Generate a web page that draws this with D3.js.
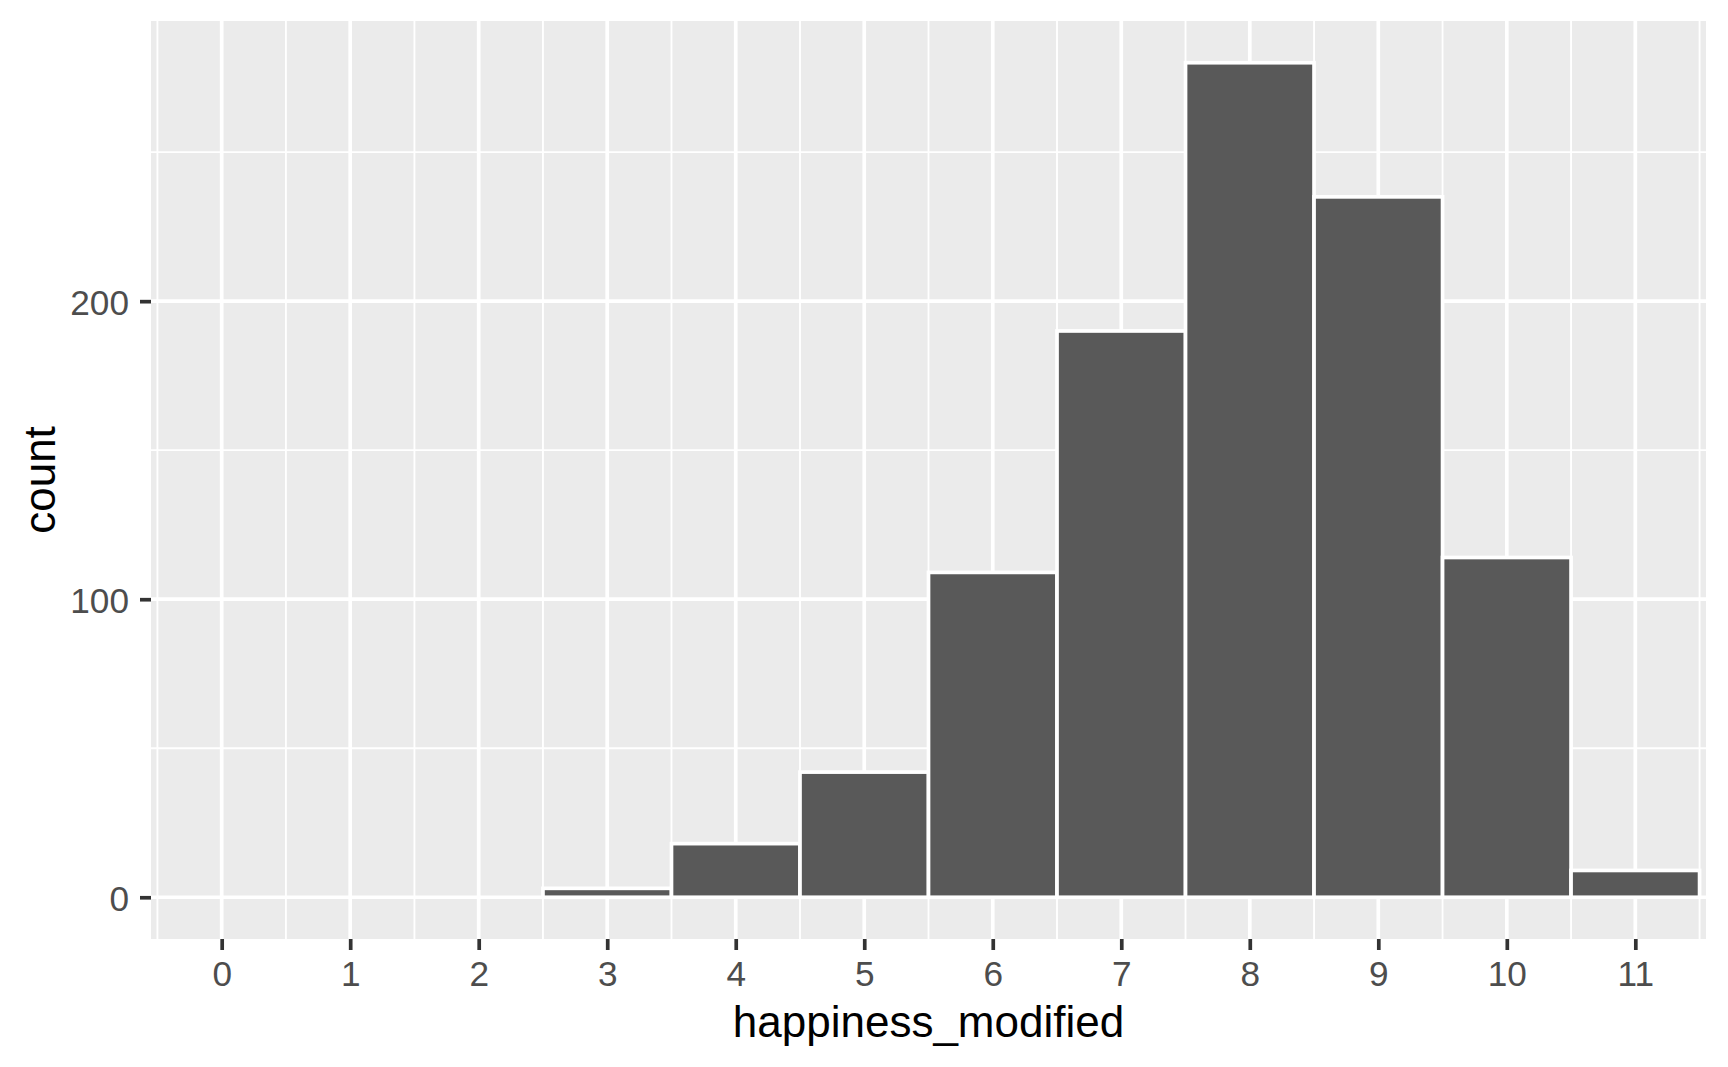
<!DOCTYPE html>
<html>
<head>
<meta charset="utf-8">
<script src="https://cdn.jsdelivr.net/npm/d3@7"></script>
<style>
  html, body { margin: 0; padding: 0; background: #ffffff; }
  svg { display: block; }
  text { font-family: "Liberation Sans", Arial, sans-serif; }
</style>
</head>
<body>
<svg id="chart" width="1728" height="1067"></svg>
<script>
// ---- data ----
const binCenters = [0, 1, 2, 3, 4, 5, 6, 7, 8, 9, 10, 11];
const counts     = [0, 0, 0, 3, 18, 42, 109, 190, 280, 235, 114, 9];
const xTickLabels = [0, 1, 2, 3, 4, 5, 6, 7, 8, 9, 10, 11];
const xMinorBreaks = [-0.5, 0.5, 1.5, 2.5, 3.5, 4.5, 5.5, 6.5, 7.5, 8.5, 9.5, 10.5, 11.5];
const yTickLabels = [0, 100, 200];
const yMinorBreaks = [50, 150, 250];
const xTitle = "happiness_modified";
const yTitle = "count";

// ---- layout ----
const panel = { left: 151, right: 1706, top: 21, bottom: 939 };
const binWidth = 1;

const x = d3.scaleLinear().domain([-0.55, 11.55]).range([panel.left, panel.right]);
const y = d3.scaleLinear().domain([-14, 294]).range([panel.bottom, panel.top]);

const svg = d3.select("#chart");

// panel background
svg.append("rect")
  .attr("x", panel.left).attr("y", panel.top)
  .attr("width", panel.right - panel.left)
  .attr("height", panel.bottom - panel.top)
  .attr("fill", "#EBEBEB");

const grid = svg.append("g");
// minor grid
grid.selectAll("line.xminor").data(xMinorBreaks).join("line")
  .attr("x1", d => x(d)).attr("x2", d => x(d))
  .attr("y1", panel.top).attr("y2", panel.bottom)
  .attr("stroke", "#ffffff").attr("stroke-width", 1.85);
grid.selectAll("line.yminor").data(yMinorBreaks).join("line")
  .attr("x1", panel.left).attr("x2", panel.right)
  .attr("y1", d => y(d)).attr("y2", d => y(d))
  .attr("stroke", "#ffffff").attr("stroke-width", 1.85);
// major grid
grid.selectAll("line.xmajor").data(xTickLabels).join("line")
  .attr("x1", d => x(d)).attr("x2", d => x(d))
  .attr("y1", panel.top).attr("y2", panel.bottom)
  .attr("stroke", "#ffffff").attr("stroke-width", 3.7);
grid.selectAll("line.ymajor").data(yTickLabels).join("line")
  .attr("x1", panel.left).attr("x2", panel.right)
  .attr("y1", d => y(d)).attr("y2", d => y(d))
  .attr("stroke", "#ffffff").attr("stroke-width", 3.7);

// bars
svg.append("g").selectAll("rect").data(binCenters.map((c, i) => ({ c, n: counts[i] }))).join("rect")
  .attr("x", d => x(d.c - binWidth / 2))
  .attr("width", d => x(d.c + binWidth / 2) - x(d.c - binWidth / 2))
  .attr("y", d => y(d.n))
  .attr("height", d => y(0) - y(d.n))
  .attr("fill", "#595959")
  .attr("stroke", "#ffffff")
  .attr("stroke-width", 3.7);

// axes
const xAxis = svg.append("g")
  .attr("transform", `translate(0,${panel.bottom})`)
  .call(d3.axisBottom(x).tickValues(xTickLabels).tickSize(11).tickPadding(11).tickFormat(d3.format("d")));
const yAxis = svg.append("g")
  .attr("transform", `translate(${panel.left},0)`)
  .call(d3.axisLeft(y).tickValues(yTickLabels).tickSize(11).tickPadding(11).tickFormat(d3.format("d")));

[xAxis, yAxis].forEach(a => {
  a.select(".domain").remove();
  a.selectAll(".tick line").attr("stroke", "#333333").attr("stroke-width", 3.7);
  a.selectAll(".tick text")
    .attr("fill", "#4D4D4D")
    .style("font-size", "35.2px")
    .style("font-family", "'Liberation Sans', Arial, sans-serif");
});
yAxis.selectAll(".tick text").attr("dy", "0.38em");

// axis titles
svg.append("text")
  .attr("x", (panel.left + panel.right) / 2)
  .attr("y", 1036.5)
  .attr("text-anchor", "middle")
  .attr("fill", "#000000")
  .style("font-size", "44px")
  .text(xTitle);

svg.append("text")
  .attr("transform", `translate(55,${(panel.top + panel.bottom) / 2}) rotate(-90)`)
  .attr("text-anchor", "middle")
  .attr("fill", "#000000")
  .style("font-size", "44px")
  .text(yTitle);
</script>
</body>
</html>
